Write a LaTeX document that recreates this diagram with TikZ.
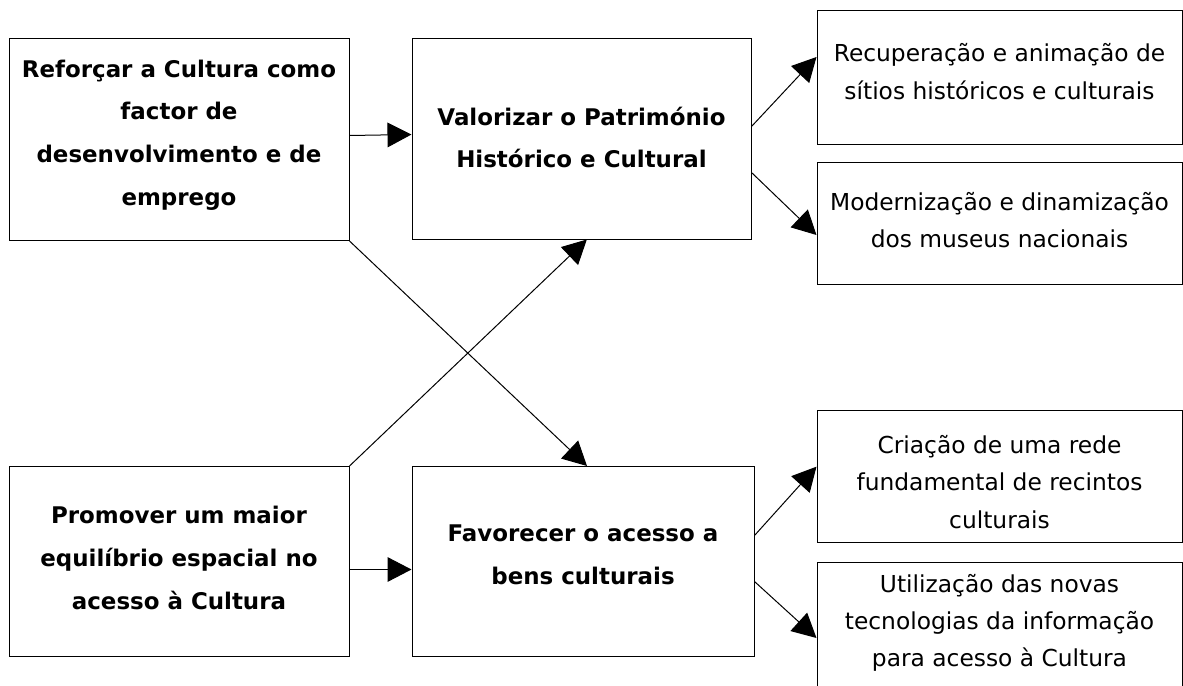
\documentclass[tikz,border=0pt]{standalone}
\usepackage{fontspec}
\setmainfont{DejaVu Sans}
\usetikzlibrary{arrows.meta}

\begin{document}
\begin{tikzpicture}[x=0.75pt,y=0.75pt,yscale=-1,xscale=1,
  box/.style={draw,line width=0.75,inner sep=0pt},
  txt/.style={inner sep=0.75pt,align=center,font=\fontsize{17.5}{28}\selectfont},
  btxt/.style={txt,font=\fontsize{17.2}{32}\selectfont\bfseries},
  arr/.style={line width=0.75,-{Triangle[length=18pt,width=18.5pt]}}]
\useasboundingbox (0,0) rectangle (1183,686);
\clip (0,0) rectangle (1183,686);

%Shape: Rectangle
\node [box,minimum width=255pt,minimum height=151.5pt] (refor) at (179,139.5) {};
%Shape: Rectangle
\node [box,minimum width=254.25pt,minimum height=150.75pt] (valor) at (581.5,138.5) {};
%Shape: Rectangle
\node [box,minimum width=273.75pt,minimum height=100.5pt] (recup) at (999.5,77) {};
%Shape: Rectangle
\node [box,minimum width=273.75pt,minimum height=91.5pt] (moder) at (999.5,223) {};
%Shape: Rectangle
\node [box,minimum width=255pt,minimum height=142.5pt] (promo) at (179,561.5) {};
%Shape: Rectangle
\node [box,minimum width=256.5pt,minimum height=142.5pt] (favor) at (583,561.5) {};
%Shape: Rectangle
\node [box,minimum width=273.75pt,minimum height=99pt] (criac) at (999.5,476) {};
%Shape: Rectangle
\node [box,minimum width=273.75pt,minimum height=118.5pt] (utili) at (999.5,641) {};

%Straight Lines
\draw [arr] ([yshift=-3pt]refor.east) -- ([yshift=-3pt]valor.west);
%Straight Lines
\draw [arr] (refor.south east) -- ([xshift=3pt]favor.north);
%Straight Lines
\draw [arr] (promo.north east) -- ([xshift=4pt]valor.south);
%Straight Lines
\draw [arr] ([yshift=6pt]promo.east) -- ([yshift=6pt]favor.west);
%Straight Lines
\draw [arr] ([yshift=-9pt]valor.east) -- ([yshift=-15pt]recup.west);
%Straight Lines
\draw [arr] ([yshift=25.5pt]valor.east) -- ([yshift=9pt]moder.west);
%Straight Lines
\draw [arr] ([yshift=-19.5pt]favor.east) -- ([yshift=-7pt]criac.west);
%Straight Lines
\draw [arr] ([yshift=15pt]favor.east) -- ([yshift=-2.25pt]utili.west);

% Text Node
\draw (179,135) node [btxt] (trefor) {Reforçar a Cultura como\\factor de\\desenvolvimento e de\\emprego};
% Text Node
\draw (581.5,137.5) node [btxt] (tvalor) {Valorizar o Património\\Histórico e Cultural};
% Text Node
\draw (999.5,71.5) node [txt] (trecup) {Recuperação e animação de\\sítios históricos e culturais};
% Text Node
\draw (999.5,220) node [txt] (tmoder) {Modernização e dinamização\\dos museus nacionais};
% Text Node
\draw (179,558) node [btxt] (tpromo) {Promover um maior\\equilíbrio espacial no\\acesso à Cultura};
% Text Node
\draw (583,555) node [btxt] (tfavor) {Favorecer o acesso a\\bens culturais};
% Text Node
\draw (999.5,482) node [txt] (tcriac) {Criação de uma rede\\fundamental de recintos\\culturais};
% Text Node
\draw (999.5,623) node [txt] (tutili) {Utilização das novas\\tecnologias da informação\\para acesso à Cultura};

\end{tikzpicture}
\end{document}
